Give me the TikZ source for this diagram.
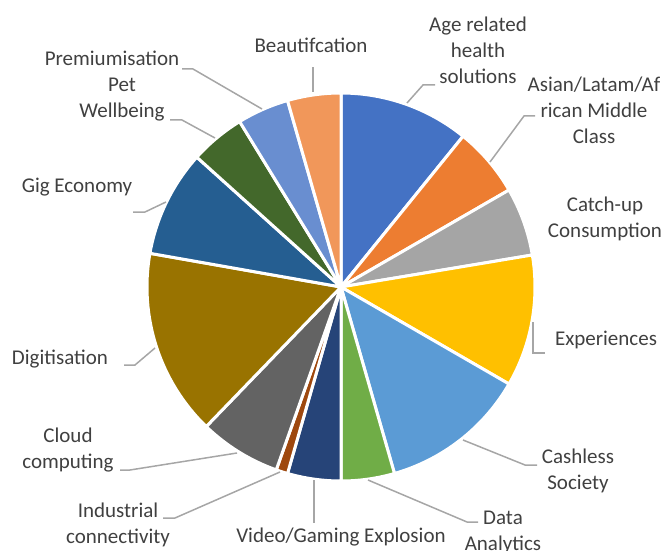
\documentclass[tikz,border=0pt]{standalone}
\usepackage{fontspec}
\setmainfont{Carlito}
\usetikzlibrary{calc,positioning}
\definecolor{s1}{HTML}{4472C4}
\definecolor{s2}{HTML}{ED7D31}
\definecolor{s3}{HTML}{A5A5A5}
\definecolor{s4}{HTML}{FFC000}
\definecolor{s5}{HTML}{5B9BD5}
\definecolor{s6}{HTML}{70AD47}
\definecolor{s7}{HTML}{264478}
\definecolor{s8}{HTML}{9E480E}
\definecolor{s9}{HTML}{636363}
\definecolor{s10}{HTML}{997300}
\definecolor{s11}{HTML}{255E91}
\definecolor{s12}{HTML}{43682B}
\definecolor{s13}{HTML}{698ED0}
\definecolor{s14}{HTML}{F1975A}
\definecolor{txt}{HTML}{404040}
\definecolor{leadc}{HTML}{A6A6A6}
\tikzset{
  lab/.style={text=txt, align=center, font=\fontsize{21}{26}\selectfont, inner sep=0pt},
  lead/.style={draw=leadc, line width=1.5pt},
  slice/.style={draw=white, line width=3pt, line join=round}
}

\begin{document}
\begin{tikzpicture}[x=1pt,y=-1pt]
		\useasboundingbox (0,0) rectangle (665,551);
		\coordinate (c) at (341,287);
		\fill[slice,fill=s1] (c) -- +(-90:194) arc[start angle=-90,end angle=-51,radius=194] -- cycle;
		\fill[slice,fill=s2] (c) -- +(-51:194) arc[start angle=-51,end angle=-30,radius=194] -- cycle;
		\fill[slice,fill=s3] (c) -- +(-30:194) arc[start angle=-30,end angle=-9.5,radius=194] -- cycle;
		\fill[slice,fill=s4] (c) -- +(-9.5:194) arc[start angle=-9.5,end angle=30,radius=194] -- cycle;
		\fill[slice,fill=s5] (c) -- +(30:194) arc[start angle=30,end angle=74,radius=194] -- cycle;
		\fill[slice,fill=s6] (c) -- +(74:194) arc[start angle=74,end angle=90,radius=194] -- cycle;
		\fill[slice,fill=s7] (c) -- +(90:194) arc[start angle=90,end angle=106,radius=194] -- cycle;
		\fill[slice,fill=s8] (c) -- +(106:194) arc[start angle=106,end angle=109.5,radius=194] -- cycle;
		\fill[slice,fill=s9] (c) -- +(109.5:194) arc[start angle=109.5,end angle=134,radius=194] -- cycle;
		\fill[slice,fill=s10] (c) -- +(134:194) arc[start angle=134,end angle=190,radius=194] -- cycle;
		\fill[slice,fill=s11] (c) -- +(190:194) arc[start angle=190,end angle=222,radius=194] -- cycle;
		\fill[slice,fill=s12] (c) -- +(222:194) arc[start angle=222,end angle=238.5,radius=194] -- cycle;
		\fill[slice,fill=s13] (c) -- +(238.5:194) arc[start angle=238.5,end angle=254,radius=194] -- cycle;
		\fill[slice,fill=s14] (c) -- +(254:194) arc[start angle=254,end angle=270,radius=194] -- cycle;
		\node[lab] (l1) at (478,50) {Age related\\health\\solutions};
		\node[lab] (l2) at (594,110) {Asian/Latam/Af\\rican Middle\\Class};
		\node[lab] (l3) at (605,219) {Catch-up\\Consumption};
		\node[lab] (l4) at (606,340) {Experiences};
		\node[lab] (l5) at (578,471) {Cashless\\Society};
		\node[lab] (l6) at (503,532) {Data\\Analytics};
		\node[lab] (l7) at (341,537) {Video/Gaming Explosion};
		\node[lab] (l8) at (118,525) {Industrial\\connectivity};
		\node[lab] (l9) at (68,450) {Cloud\\computing};
		\node[lab] (l10) at (60,359) {Digitisation};
		\node[lab] (l11) at (77,187) {Gig Economy};
		\node[lab] (l12) at (122,100) {Pet\\Wellbeing};
		\node[lab] (l13) at (112,58) {Premiumisation};
		\node[lab] (l14) at (311,45) {Beautifcation};
		\coordinate (p1) at (407,103);
		\coordinate (k1) at (423,85);
		\coordinate (e1) at (435,85);
		\coordinate (p2) at (490,162);
		\coordinate (k2) at (524,116);
		\coordinate (e2) at (535,116);
		\coordinate (p4) at (533,322);
		\coordinate (k4) at (533,353);
		\coordinate (e4) at (545,353);
		\coordinate (p5) at (463,440);
		\coordinate (k5) at (525,465);
		\coordinate (e5) at (537,465);
		\coordinate (p6) at (368,480);
		\coordinate (k6) at (467,522);
		\coordinate (e6) at (478,522);
		\coordinate (p7) at (314,480);
		\coordinate (e7) at (314,523);
		\coordinate (p8) at (280,472);
		\coordinate (k8) at (175,518);
		\coordinate (e8) at (163,518);
		\coordinate (p9) at (237,453);
		\coordinate (k9) at (130,470);
		\coordinate (e9) at (120,470);
		\coordinate (p10) at (155,348);
		\coordinate (k10) at (135,365);
		\coordinate (e10) at (124,365);
		\coordinate (p11) at (166,202);
		\coordinate (k11) at (145,212);
		\coordinate (e11) at (133,212);
		\coordinate (p12) at (215,138);
		\coordinate (k12) at (182,120);
		\coordinate (e12) at (170,120);
		\coordinate (p13) at (262,109);
		\coordinate (k13) at (193,69);
		\coordinate (e13) at (182,69);
		\coordinate (p14) at (313,92);
		\coordinate (e14) at (313,67);
		\draw[lead] (p1) -- (k1) -- (e1);
		\draw[lead] (p2) -- (k2) -- (e2);
		\draw[lead] (p4) -- (k4) -- (e4);
		\draw[lead] (p5) -- (k5) -- (e5);
		\draw[lead] (p6) -- (k6) -- (e6);
		\draw[lead] (p7) -- (e7);
		\draw[lead] (p8) -- (k8) -- (e8);
		\draw[lead] (p9) -- (k9) -- (e9);
		\draw[lead] (p10) -- (k10) -- (e10);
		\draw[lead] (p11) -- (k11) -- (e11);
		\draw[lead] (p12) -- (k12) -- (e12);
		\draw[lead] (p13) -- (k13) -- (e13);
		\draw[lead] (p14) -- (e14);
	\end{tikzpicture}
\end{document}
